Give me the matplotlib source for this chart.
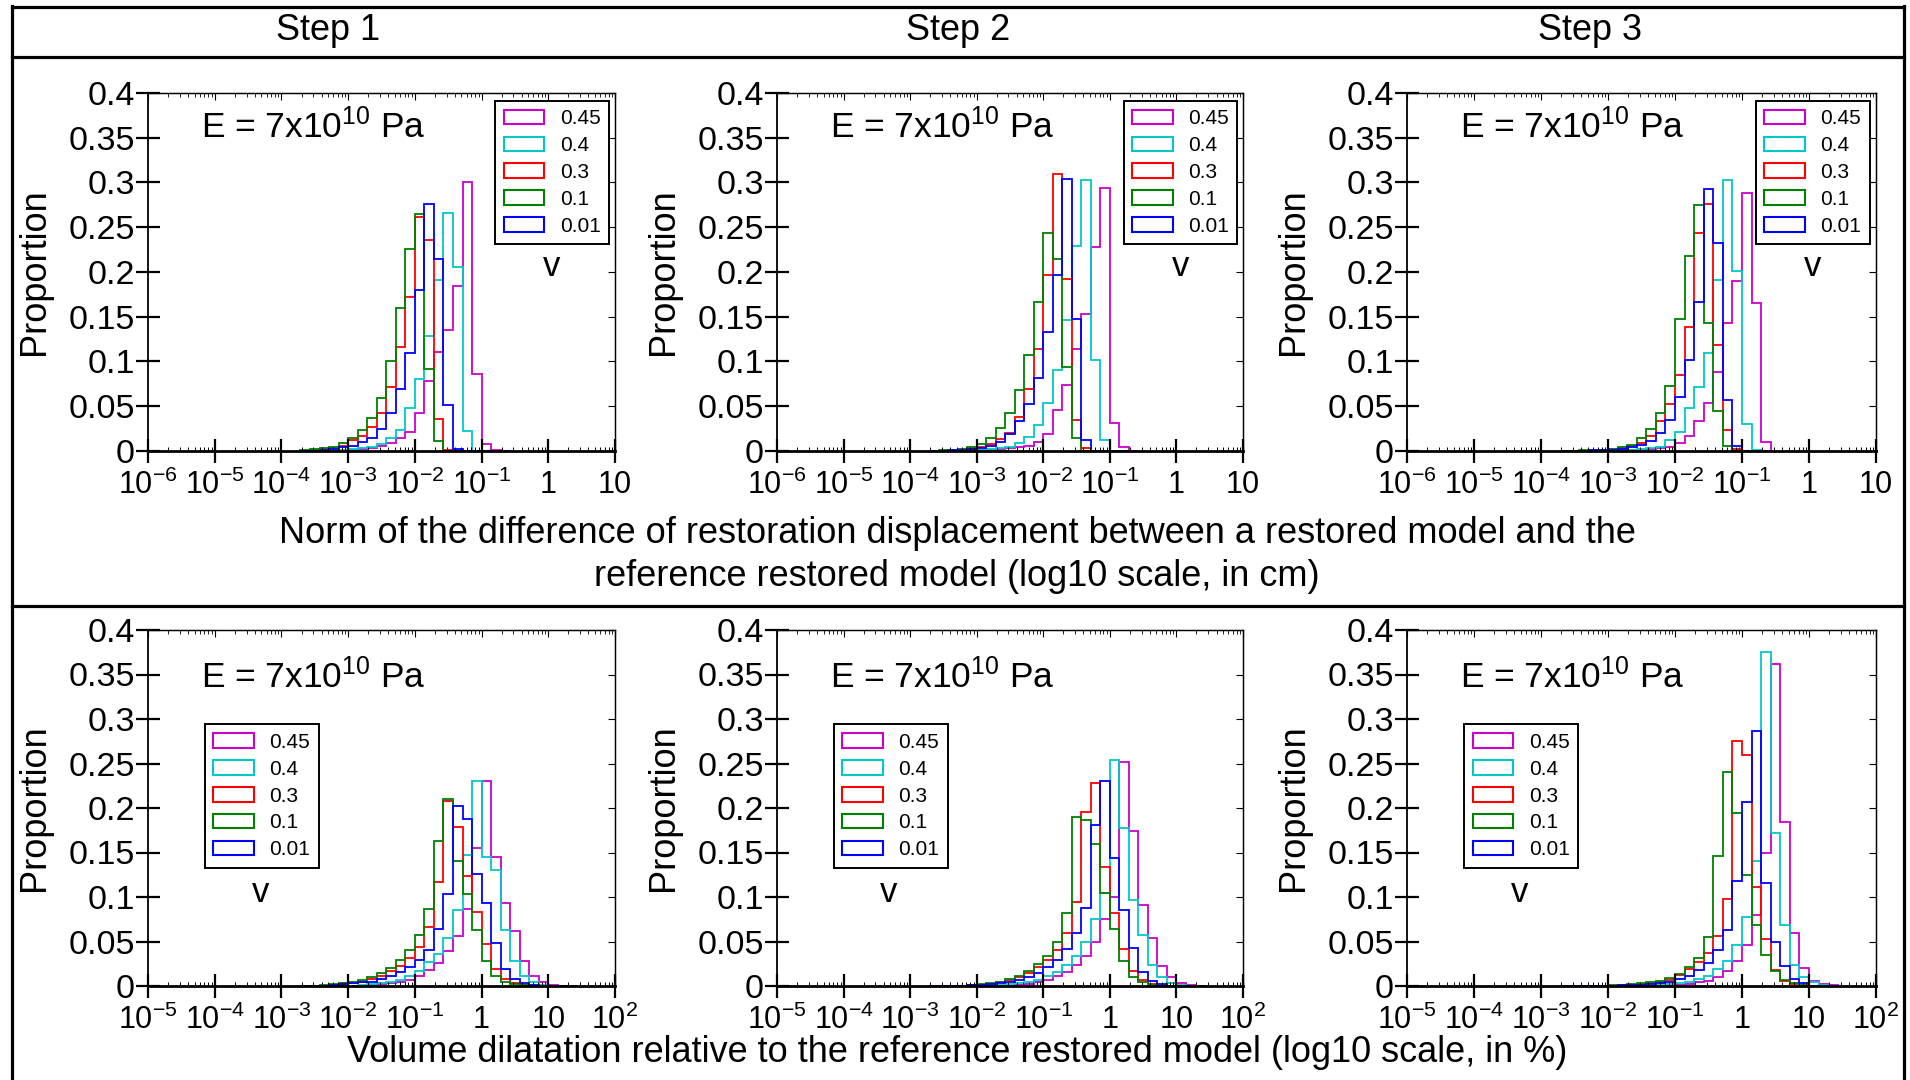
import numpy as np
import matplotlib
matplotlib.use("Agg")
import matplotlib.pyplot as plt
from matplotlib.patches import Patch
from matplotlib.lines import Line2D
from matplotlib.ticker import LogLocator, NullFormatter

plt.rcParams['font.family'] = ['Liberation Sans', 'DejaVu Sans']
plt.rcParams['mathtext.fontset'] = 'custom'
plt.rcParams['mathtext.rm'] = 'Liberation Sans'
plt.rcParams['mathtext.it'] = 'Liberation Sans:italic'
plt.rcParams['mathtext.bf'] = 'Liberation Sans:bold'
plt.rcParams['mathtext.default'] = 'regular'

# ---- data -------------------------------------------------------------
step_titles = ["Step 1", "Step 2", "Step 3"]
nu_labels = ["0.45", "0.4", "0.3", "0.1", "0.01"]
nu_colors = ["#CC00CC", "#00C8C8", "#FF0000", "#008000", "#0000FF"]

# histogram bins: 7 per decade (log10), first edge given as log10 value
bin_width = 1.0 / 7
disp_first_edge = -3 - 5.0 / 7     # top row (cm)
vol_first_edge = -2 - 5.0 / 7      # bottom row (%)

# top row: norm of restoration displacement difference, order 0.45, 0.4, 0.3, 0.1, 0.01
disp_step1 = [
    [0, 0, 0, 0, 0.0005, 0.001, 0.002, 0.003, 0.0055, 0.009, 0.014, 0.021, 0.043, 0.078, 0.111, 0.135, 0.184, 0.300, 0.086, 0.008, 0.001, 0],
    [0, 0, 0, 0.0005, 0.001, 0.002, 0.003, 0.005, 0.008, 0.014, 0.023, 0.048, 0.081, 0.128, 0.191, 0.266, 0.206, 0.022, 0, 0, 0, 0],
    [0, 0.001, 0.002, 0.003, 0.006, 0.012, 0.017, 0.027, 0.043, 0.072, 0.116, 0.172, 0.262, 0.236, 0.036, 0.001, 0, 0, 0, 0, 0, 0],
    [0.001, 0.002, 0.003, 0.005, 0.009, 0.014, 0.023, 0.037, 0.059, 0.100, 0.160, 0.226, 0.265, 0.092, 0.011, 0, 0, 0, 0, 0, 0, 0],
    [0, 0.0005, 0.001, 0.002, 0.004, 0.006, 0.010, 0.015, 0.025, 0.043, 0.069, 0.110, 0.180, 0.276, 0.215, 0.051, 0.002, 0, 0, 0, 0, 0],
]
disp_step2 = [
    [0, 0, 0, 0, 0.0005, 0.001, 0.001, 0.002, 0.003, 0.004, 0.006, 0.010, 0.019, 0.046, 0.074, 0.114, 0.153, 0.228, 0.294, 0.031, 0.004, 0],
    [0, 0, 0, 0.0005, 0.001, 0.001, 0.002, 0.003, 0.005, 0.009, 0.016, 0.029, 0.054, 0.090, 0.146, 0.229, 0.303, 0.102, 0.012, 0, 0, 0],
    [0, 0.0005, 0.001, 0.0015, 0.002, 0.004, 0.008, 0.013, 0.020, 0.038, 0.069, 0.114, 0.197, 0.309, 0.192, 0.035, 0.003, 0, 0, 0, 0, 0],
    [0.0005, 0.001, 0.001, 0.002, 0.004, 0.008, 0.015, 0.026, 0.042, 0.068, 0.107, 0.167, 0.244, 0.215, 0.094, 0.015, 0, 0, 0, 0, 0, 0],
    [0, 0.0005, 0.001, 0.0015, 0.002, 0.003, 0.006, 0.010, 0.019, 0.033, 0.052, 0.082, 0.133, 0.197, 0.304, 0.148, 0.012, 0, 0, 0, 0, 0],
]
disp_step3 = [
    [0, 0, 0, 0, 0, 0.0005, 0.001, 0.001, 0.0015, 0.002, 0.003, 0.005, 0.0086, 0.017, 0.033, 0.054, 0.088, 0.143, 0.190, 0.288, 0.165, 0.010],
    [0, 0, 0, 0, 0.0005, 0.001, 0.001, 0.0015, 0.002, 0.003, 0.005, 0.012, 0.0216, 0.048, 0.072, 0.110, 0.191, 0.303, 0.201, 0.030, 0.001, 0],
    [0, 0, 0.0005, 0.001, 0.001, 0.002, 0.003, 0.0056, 0.009, 0.017, 0.033, 0.053, 0.085, 0.139, 0.244, 0.276, 0.118, 0.024, 0.002, 0, 0, 0],
    [0, 0.0005, 0.001, 0.001, 0.0015, 0.002, 0.004, 0.007, 0.015, 0.025, 0.043, 0.073, 0.148, 0.218, 0.275, 0.143, 0.045, 0.006, 0, 0, 0, 0],
    [0, 0, 0.0005, 0.001, 0.001, 0.0015, 0.002, 0.004, 0.0067, 0.011, 0.020, 0.035, 0.060, 0.102, 0.166, 0.293, 0.232, 0.057, 0.0056, 0, 0, 0],
]

# bottom row: volume dilatation, order 0.45, 0.4, 0.3, 0.1, 0.01
vol_step1 = [
    [0, 0, 0, 0, 0, 0, 0, 0.001, 0.002, 0.003, 0.004, 0.007, 0.011, 0.0175, 0.026, 0.039, 0.056, 0.0866, 0.155, 0.230, 0.145, 0.093, 0.062, 0.028, 0.0116, 0.004, 0.0015, 0.0005, 0],
    [0, 0, 0, 0, 0, 0, 0.001, 0.002, 0.003, 0.004, 0.007, 0.011, 0.017, 0.027, 0.036, 0.054, 0.085, 0.147, 0.230, 0.145, 0.130, 0.063, 0.0285, 0.0116, 0.004, 0.001, 0, 0, 0],
    [0, 0, 0, 0.001, 0.002, 0.003, 0.005, 0.008, 0.0116, 0.0165, 0.023, 0.0315, 0.0434, 0.066, 0.117, 0.208, 0.179, 0.124, 0.083, 0.047, 0.019, 0.008, 0.003, 0.001, 0, 0, 0, 0, 0],
    [0, 0.0005, 0.001, 0.002, 0.003, 0.004, 0.0067, 0.0097, 0.0146, 0.020, 0.029, 0.040, 0.057, 0.087, 0.163, 0.210, 0.140, 0.103, 0.063, 0.028, 0.011, 0.004, 0.002, 0.001, 0, 0, 0, 0, 0],
    [0, 0, 0, 0.001, 0.002, 0.003, 0.004, 0.005, 0.008, 0.011, 0.0154, 0.021, 0.029, 0.040, 0.064, 0.103, 0.202, 0.188, 0.126, 0.093, 0.048, 0.019, 0.008, 0.003, 0.001, 0, 0, 0, 0],
]
vol_step2 = [
    [0, 0, 0, 0, 0, 0, 0, 0, 0, 0.001, 0.002, 0.004, 0.007, 0.011, 0.016, 0.024, 0.034, 0.050, 0.075, 0.100, 0.252, 0.1745, 0.091, 0.054, 0.023, 0.0097, 0.003, 0.001, 0],
    [0, 0, 0, 0, 0, 0, 0, 0.001, 0.002, 0.003, 0.004, 0.007, 0.011, 0.016, 0.024, 0.034, 0.050, 0.075, 0.105, 0.254, 0.178, 0.0966, 0.057, 0.024, 0.010, 0.003, 0.001, 0, 0],
    [0, 0, 0, 0, 0.001, 0.001, 0.002, 0.004, 0.0067, 0.0097, 0.0146, 0.021, 0.029, 0.041, 0.060, 0.094, 0.196, 0.228, 0.134, 0.082, 0.0416, 0.017, 0.0067, 0.002, 0, 0, 0, 0, 0],
    [0, 0, 0, 0.0005, 0.001, 0.002, 0.003, 0.005, 0.008, 0.0116, 0.017, 0.025, 0.034, 0.050, 0.082, 0.190, 0.186, 0.160, 0.105, 0.064, 0.028, 0.0105, 0.004, 0.001, 0, 0, 0, 0, 0],
    [0, 0, 0, 0, 0.001, 0.001, 0.002, 0.003, 0.004, 0.0067, 0.0097, 0.0146, 0.021, 0.029, 0.0416, 0.060, 0.0876, 0.181, 0.230, 0.144, 0.085, 0.0427, 0.016, 0.006, 0.002, 0, 0, 0, 0],
]
vol_step3 = [
    [0, 0, 0, 0, 0, 0, 0, 0, 0, 0, 0, 0, 0.001, 0.002, 0.004, 0.006, 0.0097, 0.017, 0.028, 0.046, 0.080, 0.149, 0.362, 0.184, 0.060, 0.020, 0.006, 0.002, 0.001],
    [0, 0, 0, 0, 0, 0, 0, 0, 0, 0, 0.001, 0.002, 0.003, 0.005, 0.008, 0.0116, 0.019, 0.028, 0.046, 0.077, 0.140, 0.375, 0.172, 0.068, 0.0236, 0.0097, 0.004, 0.001, 0],
    [0, 0, 0, 0, 0, 0, 0.001, 0.001, 0.002, 0.003, 0.005, 0.007, 0.012, 0.019, 0.027, 0.037, 0.056, 0.098, 0.275, 0.259, 0.111, 0.053, 0.0175, 0.006, 0.002, 0, 0, 0, 0],
    [0, 0, 0, 0, 0.0005, 0.001, 0.001, 0.002, 0.003, 0.004, 0.006, 0.009, 0.014, 0.0217, 0.0315, 0.055, 0.146, 0.241, 0.194, 0.125, 0.0685, 0.035, 0.0165, 0.0067, 0.003, 0.001, 0, 0, 0],
    [0, 0, 0, 0, 0, 0, 0.001, 0.001, 0.001, 0.002, 0.003, 0.005, 0.008, 0.0116, 0.018, 0.0255, 0.040, 0.063, 0.118, 0.207, 0.287, 0.116, 0.050, 0.023, 0.008, 0.003, 0, 0, 0],
]

disp_xticks = [1e-6, 1e-5, 1e-4, 1e-3, 1e-2, 1e-1, 1, 10]
disp_xlabels = ["$10^{-6}$", "$10^{-5}$", "$10^{-4}$", "$10^{-3}$", "$10^{-2}$", "$10^{-1}$", "1", "10"]
vol_xticks = [1e-5, 1e-4, 1e-3, 1e-2, 1e-1, 1, 10, 100]
vol_xlabels = ["$10^{-5}$", "$10^{-4}$", "$10^{-3}$", "$10^{-2}$", "$10^{-1}$", "1", "10", "$10^{2}$"]
yticks = [0, 0.05, 0.1, 0.15, 0.2, 0.25, 0.3, 0.35, 0.4]
ylabels = ["0", "0.05", "0.1", "0.15", "0.2", "0.25", "0.3", "0.35", "0.4"]

disp_title = ("Norm of the difference of restoration displacement between a restored model and the\n"
              "reference restored model (log10 scale, in cm)")
vol_title = "Volume dilatation relative to the reference restored model (log10 scale, in %)"
e_text = "E = 7x10$^{10}$ Pa"

# ---- layout (pixels) ---------------------------------------------------
W, H = 1910, 1080
fig = plt.figure(figsize=(W / 100, H / 100), dpi=100)

cols = [(148, 615), (777, 1243), (1407, 1876)]
rows = [(93, 451), (630, 986)]


def px_axes(x0, x1, y0, y1):
    return fig.add_axes([x0 / W, 1 - y1 / H, (x1 - x0) / W, (y1 - y0) / H])


def fig_line(xs, ys, lw=2.3):
    fig.add_artist(Line2D([x / W for x in xs], [1 - y / H for y in ys],
                          transform=fig.transFigure, color="black", lw=lw))


def setup_axes(ax, xticks, xlabels):
    ax.set_xscale("log")
    ax.set_xlim(xticks[0], xticks[-1])
    ax.set_ylim(0, 0.4)
    ax.set_xticks(xticks)
    ax.set_xticklabels(xlabels)
    ax.xaxis.set_minor_locator(LogLocator(base=10, subs=np.arange(2, 10), numticks=30))
    ax.xaxis.set_minor_formatter(NullFormatter())
    ax.set_yticks(yticks)
    ax.set_yticklabels(ylabels)
    ax.tick_params(axis="both", which="major", direction="inout", length=17, width=1.6,
                   top=False, right=False)
    ax.tick_params(axis="x", which="major", pad=5, labelsize=22)
    ax.tick_params(axis="y", which="major", pad=1, labelsize=24.5)
    ax.tick_params(axis="x", which="minor", direction="in", length=3, width=0.7, top=False)
    for side in ["top", "right"]:
        ax.spines[side].set_linewidth(0.9)
    ax.spines["left"].set_linewidth(1.3)
    ax.spines["bottom"].set_linewidth(2.0)
    # thin inner ticks on top and right
    sx = ax.secondary_xaxis("top")
    sx.set_xticks(xticks)
    sx.xaxis.set_minor_locator(LogLocator(base=10, subs=np.arange(2, 10), numticks=30))
    sx.xaxis.set_major_formatter(NullFormatter())
    sx.xaxis.set_minor_formatter(NullFormatter())
    sx.tick_params(which="major", direction="in", length=5, width=0.8)
    sx.tick_params(which="minor", direction="in", length=3, width=0.6)
    sx.spines["top"].set_linewidth(0.9)
    sy = ax.secondary_yaxis("right")
    sy.set_yticks(yticks)
    sy.yaxis.set_major_formatter(NullFormatter())
    sy.tick_params(which="major", direction="in", length=5, width=0.8)
    sy.spines["right"].set_linewidth(0.9)
    ax.set_ylabel("Proportion", fontsize=26)
    ax.yaxis.set_label_coords(-0.205, 0.5)


panels = [
    (0, 0, disp_step1, disp_first_edge, disp_xticks, disp_xlabels),
    (0, 1, disp_step2, disp_first_edge, disp_xticks, disp_xlabels),
    (0, 2, disp_step3, disp_first_edge, disp_xticks, disp_xlabels),
    (1, 0, vol_step1, vol_first_edge, vol_xticks, vol_xlabels),
    (1, 1, vol_step2, vol_first_edge, vol_xticks, vol_xlabels),
    (1, 2, vol_step3, vol_first_edge, vol_xticks, vol_xlabels),
]

for r, c, series, first_edge, xt, xl in panels:
    ax = px_axes(cols[c][0], cols[c][1], rows[r][0], rows[r][1])
    for vals, col in zip(series, nu_colors):
        edges = 10 ** (first_edge + bin_width * np.arange(len(vals) + 1))
        ax.stairs(vals, edges, baseline=0, color=col, lw=1.3)
    setup_axes(ax, xt, xl)

    handles = [Patch(facecolor="none", edgecolor=col, lw=1.5) for col in nu_colors]
    if r == 0:
        leg_anchor, v_pos, e_y = (0.744, 0.978), (0.865, 0.514), 0.905
    else:
        leg_anchor, v_pos, e_y = (0.122, 0.735), (0.24, 0.262), 0.868
    leg = ax.legend(handles, nu_labels, loc="upper left", bbox_to_anchor=leg_anchor,
                    borderaxespad=0, fontsize=15, frameon=True, fancybox=False,
                    framealpha=1, edgecolor="black", handlelength=1.95, handleheight=0.7,
                    handletextpad=0.75, labelspacing=0.38, borderpad=0.4)
    leg.get_frame().set_linewidth(1.4)
    ax.text(v_pos[0], v_pos[1], "v", transform=ax.transAxes, ha="center", va="center", fontsize=25)
    ax.text(0.114, e_y, e_text, transform=ax.transAxes, ha="left", va="center", fontsize=25.5)

# ---- frame, headers, row titles ---------------------------------------
fig_line([12, 12], [6, 1080])
fig_line([1904, 1904], [6, 1080])
fig_line([12, 1904], [7, 7])
fig_line([12, 1904], [57, 57])
fig_line([12, 1904], [606, 606])

for title, xc in zip(step_titles, [328, 958, 1590]):
    fig.text(xc / W, 1 - 30 / H, title, ha="center", va="center", fontsize=26)

fig.text(957 / W, 1 - 555 / H, disp_title, ha="center", va="center", fontsize=26, linespacing=1.3)
fig.text(957 / W, 1 - 1052 / H, vol_title, ha="center", va="center", fontsize=26)

fig.savefig("out.png", dpi=100)
